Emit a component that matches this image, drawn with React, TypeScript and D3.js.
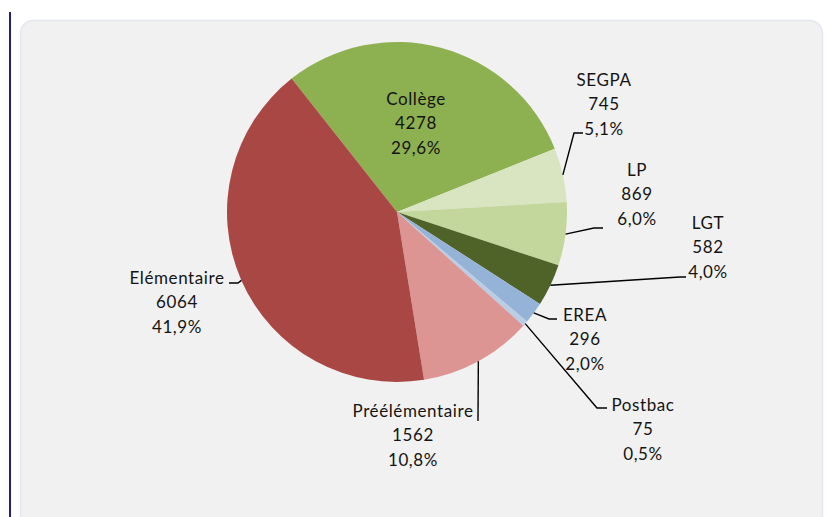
import { useEffect, useRef } from "react";
import * as d3 from "d3";

const categories = ["Collège", "SEGPA", "LP", "LGT", "EREA", "Postbac", "Préélémentaire", "Elémentaire"];
const effectifs = [4278, 745, 869, 582, 296, 75, 1562, 6064];
const percents = ["29,6%", "5,1%", "6,0%", "4,0%", "2,0%", "0,5%", "10,8%", "41,9%"];

const colors = ["#8db050", "#d8e5c0", "#c3d69b", "#4f6228", "#95b3d7", "#b9cde5", "#dc9593", "#a94744"];

// label placement: text centre and leader elbow/end (null = no leader)
const labelLayout: Record<string, { x: number; y: number; leader: [number, number][] | null }> = {
  "Collège": { x: 416, y: 98, leader: null },
  SEGPA: { x: 604, y: 79, leader: [[574, 133], [583, 133]] },
  LP: { x: 637, y: 169, leader: [[594, 228], [603, 228]] },
  LGT: { x: 708, y: 222, leader: [[680, 277], [686, 277]] },
  EREA: { x: 585, y: 314, leader: [[549, 319], [557, 319]] },
  Postbac: { x: 643, y: 404, leader: [[597, 408], [607, 408]] },
  "Préélémentaire": { x: 413, y: 410, leader: [[478, 421]] },
  "Elémentaire": { x: 177, y: 277, leader: [[238, 283], [229, 283]] },
};

type Slice = { name: string; value: number; pct: string; color: string };

export default function App() {
  const ref = useRef<SVGSVGElement>(null);

  useEffect(() => {
    if (!ref.current) return;
    const width = 827;
    const height = 517;
    const cx = 397;
    const cy = 212;
    const radius = 170;
    const start = (-38.3 * Math.PI) / 180;

    const svg = d3.select(ref.current);
    svg.selectAll("*").remove();

    svg.append("rect").attr("width", width).attr("height", height).attr("fill", "#ffffff");

    // blue margin line and card
    svg
      .append("line")
      .attr("x1", 10)
      .attr("x2", 10)
      .attr("y1", 12)
      .attr("y2", height)
      .attr("stroke", "#1f1f8f")
      .attr("stroke-width", 2);

    svg
      .append("rect")
      .attr("x", 20.5)
      .attr("y", 20.5)
      .attr("width", 802)
      .attr("height", 540)
      .attr("rx", 13)
      .attr("fill", "#f1f1f1")
      .attr("stroke", "#e3e6ee")
      .attr("stroke-width", 1.5);

    const data: Slice[] = categories.map((name, i) => ({
      name,
      value: effectifs[i],
      pct: percents[i],
      color: colors[i],
    }));

    const pie = d3
      .pie<Slice>()
      .value((d) => d.value)
      .sort(null)
      .startAngle(start)
      .endAngle(start + 2 * Math.PI);

    const arc = d3.arc<d3.PieArcDatum<Slice>>().innerRadius(0).outerRadius(radius);

    const g = svg.append("g").attr("transform", `translate(${cx},${cy})`);
    const arcs = pie(data);

    g.selectAll("path")
      .data(arcs)
      .enter()
      .append("path")
      .attr("d", arc)
      .attr("fill", (d) => d.data.color);

    const line = d3.line();

    arcs.forEach((d) => {
      const lay = labelLayout[d.data.name];
      if (lay.leader) {
        const mid = (d.startAngle + d.endAngle) / 2;
        const p0: [number, number] = [cx + radius * Math.sin(mid), cy - radius * Math.cos(mid)];
        svg
          .append("path")
          .attr("d", line([p0, ...lay.leader]))
          .attr("fill", "none")
          .attr("stroke", "#000000")
          .attr("stroke-width", 1.4);
      }
      const lines = [d.data.name, String(d.data.value), d.data.pct];
      const t = svg
        .append("text")
        .attr("text-anchor", "middle")
        .style("font-family", "Lato, 'Open Sans', sans-serif")
        .style("font-size", "17px")
        .style("letter-spacing", "0.6px")
        .attr("fill", "#141414");
      lines.forEach((s, i) => {
        t.append("tspan")
          .attr("x", lay.x)
          .attr("y", lay.y + i * 24.7)
          .attr("dominant-baseline", "central")
          .text(s);
      });
    });
  }, []);

  return (
    <svg
      ref={ref}
      width={827}
      height={517}
      style={{ position: "absolute", left: 0, top: 0, display: "block" }}
    />
  );
}
